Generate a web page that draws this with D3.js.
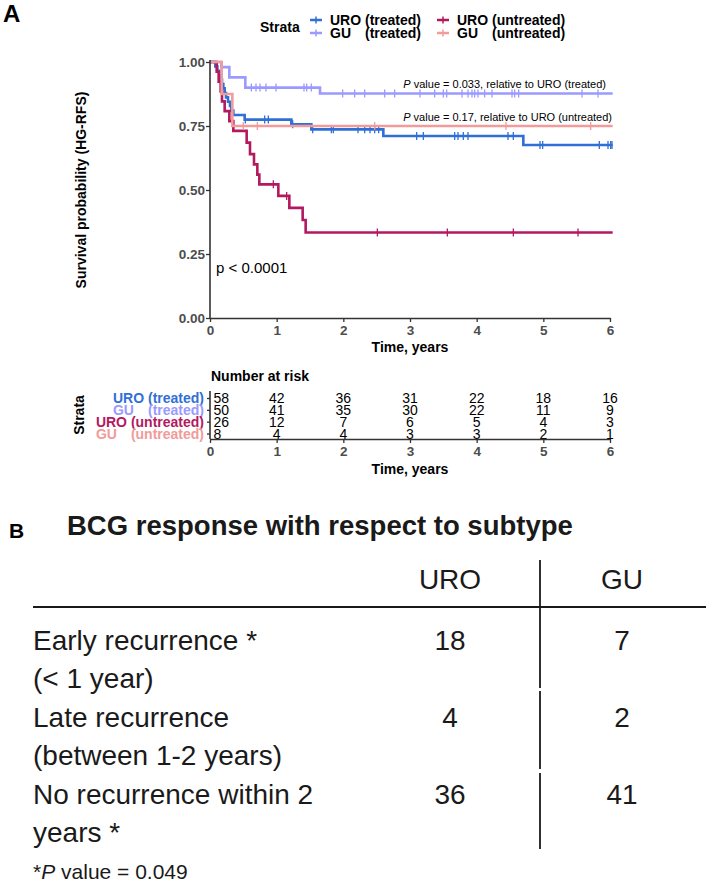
<!DOCTYPE html>
<html><head><meta charset="utf-8">
<script src="https://cdn.jsdelivr.net/npm/d3@7"></script>
<style>
body{margin:0;background:#fff}
svg{display:block}
text{font-family:"Liberation Sans",Arial,Helvetica,sans-serif}
</style>
</head><body>
<svg id="chart" width="709" height="884"></svg>
<script>
// ---------- DATA ----------
const strata = ["URO (treated)", "GU (treated)", "URO (untreated)", "GU (untreated)"];
const strataColors = ["#2f6fd6", "#9a9aff", "#b3195f", "#f19b9b"];

// Kaplan-Meier step curves (time in years, survival probability)
const uroTreatedTimes = [0, 0.08, 0.11, 0.14, 0.16, 0.18, 0.20, 0.22, 0.24, 0.27, 0.30, 0.32, 0.35, 0.52, 1.22, 1.52, 2.60, 4.70, 6.04];
const uroTreatedSurv  = [1, 0.983, 0.966, 0.948, 0.931, 0.914, 0.897, 0.879, 0.862, 0.845, 0.828, 0.810, 0.793, 0.775, 0.757, 0.737, 0.711, 0.676, 0.676];
const uroTreatedCens  = [0.53, 0.82, 0.875, 1.24, 1.54, 1.82, 1.85, 2.22, 2.32, 2.40, 2.47, 2.53, 3.10, 3.20, 3.67, 3.72, 3.80, 3.87, 4.47, 4.55, 4.95, 4.99, 5.84, 5.97, 6.01, 6.03];

const guTreatedTimes = [0, 0.17, 0.29, 0.53, 1.65, 6.04];
const guTreatedSurv  = [1, 0.98, 0.94, 0.90, 0.877, 0.877];
const guTreatedCens  = [0.62, 0.69, 0.75, 0.84, 0.99, 1.41, 1.45, 1.52, 1.99, 2.17, 2.32, 2.62, 2.77, 3.15, 3.37, 3.50, 3.55, 3.78, 3.87, 3.93, 3.97, 4.02, 4.12, 4.23, 4.53, 4.57, 4.63, 5.58, 5.82];

const uroUntreatedTimes = [0, 0.10, 0.13, 0.16, 0.18, 0.22, 0.29, 0.35, 0.55, 0.60, 0.66, 0.71, 0.74, 1.025, 1.19, 1.39, 1.435, 6.04];
const uroUntreatedSurv  = [1, 0.962, 0.923, 0.885, 0.846, 0.808, 0.769, 0.731, 0.685, 0.640, 0.600, 0.560, 0.522, 0.477, 0.430, 0.383, 0.334, 0.334];
const uroUntreatedCens  = [0.95, 1.15, 2.51, 3.56, 4.55, 5.52];

const guUntreatedTimes = [0, 0.175, 0.335, 6.04];
const guUntreatedSurv  = [1, 0.875, 0.75, 0.75];
const guUntreatedCens  = [0.50, 0.71, 2.47, 4.44, 5.71];

const pValueLabels = ["0.033, relative to URO (treated)", "0.17, relative to URO (untreated)"];
const pValueLevels = [0.877, 0.75];
const overallP = "p < 0.0001";

// Number at risk
const riskTimes = [0, 1, 2, 3, 4, 5, 6];
const riskUroTreated   = [58, 42, 36, 31, 22, 18, 16];
const riskGuTreated    = [50, 41, 35, 30, 22, 11, 9];
const riskUroUntreated = [26, 12, 7, 6, 5, 4, 3];
const riskGuUntreated  = [8, 4, 4, 3, 3, 2, 1];

const yTicks = [0, 0.25, 0.5, 0.75, 1];
const xTicks = [0, 1, 2, 3, 4, 5, 6];

// Panel B table
const tableTitle = "BCG response with respect to subtype";
const colHeaders = ["URO", "GU"];
const rowLines = [["Early recurrence *", "(< 1 year)"], ["Late recurrence", "(between 1-2 years)"], ["No recurrence within 2", "years *"]];
const uroCounts = [18, 4, 36];
const guCounts = [7, 2, 41];
const footnoteValue = " value = 0.049";

// ---------- DRAW ----------
const svg = d3.select("#chart");
const AX = "#333333", TICKC = "#4d4d4d";

const curves = [
  {t: uroTreatedTimes, s: uroTreatedSurv, c: uroTreatedCens},
  {t: guTreatedTimes, s: guTreatedSurv, c: guTreatedCens},
  {t: uroUntreatedTimes, s: uroUntreatedSurv, c: uroUntreatedCens},
  {t: guUntreatedTimes, s: guUntreatedSurv, c: guUntreatedCens}
];
const risks = [riskUroTreated, riskGuTreated, riskUroUntreated, riskGuUntreated];

const x = d3.scaleLinear().domain([0, 6]).range([210, 610]);
const y = d3.scaleLinear().domain([0, 1]).range([318, 62]);

// panel label A
svg.append("text").attr("x", 3).attr("y", 22).attr("font-size", 24).attr("font-weight", "bold").text("A");

// legend
const legG = svg.append("g");
legG.append("text").attr("x", 260).attr("y", 32).attr("font-size", 14).attr("font-weight", "bold").text("Strata");
const legCol = d3.scaleOrdinal().domain([0, 1]).range([310, 437]);
const legRow = d3.scaleOrdinal().domain([0, 1]).range([20, 33]);
function splitLabel(lbl) { const i = lbl.indexOf(" "); return [lbl.slice(0, i), lbl.slice(i + 1)]; }
strata.forEach((lbl, i) => {
  const col = Math.floor(i / 2), row = i % 2;
  const kx = legCol(col), ky = legRow(row);
  legG.append("line").attr("x1", kx).attr("x2", kx + 12).attr("y1", ky).attr("y2", ky)
    .attr("stroke", strataColors[i]).attr("stroke-width", 2.5);
  legG.append("line").attr("x1", kx + 6).attr("x2", kx + 6).attr("y1", ky - 3.5).attr("y2", ky + 3.5)
    .attr("stroke", strataColors[i]).attr("stroke-width", 1.5);
});
[0, 1].forEach(col => {
  const uroIdx = col * 2, guIdx = col * 2 + 1;
  const lx = legCol(col) + 20;
  const t1 = legG.append("text").attr("x", lx).attr("y", legRow(0) + 5).attr("font-size", 14).attr("font-weight", "bold").text(strata[uroIdx]);
  const w = t1.node().getComputedTextLength();
  const parts = splitLabel(strata[guIdx]);
  legG.append("text").attr("x", lx).attr("y", legRow(1) + 5).attr("font-size", 14).attr("font-weight", "bold").text(parts[0]);
  legG.append("text").attr("x", lx + w).attr("y", legRow(1) + 5).attr("text-anchor", "end").attr("font-size", 14).attr("font-weight", "bold").text(parts[1]);
});

// curves
const line = d3.line().x(d => x(d[0])).y(d => y(d[1])).curve(d3.curveStepAfter);
curves.forEach((cv, i) => {
  const pts = cv.t.map((t, j) => [t, cv.s[j]]);
  svg.append("path").attr("d", line(pts)).attr("fill", "none").attr("stroke", strataColors[i])
    .attr("stroke-width", 2.6).attr("stroke-linejoin", "miter");
  cv.c.forEach(ct => {
    const j = d3.bisectRight(cv.t, ct) - 1;
    const sv = cv.s[Math.max(0, j)];
    svg.append("line").attr("x1", x(ct)).attr("x2", x(ct)).attr("y1", y(sv) - 4).attr("y2", y(sv) + 4)
      .attr("stroke", strataColors[i]).attr("stroke-width", 1.3);
  });
});

// axes main
const yAxis = svg.append("g").attr("transform", "translate(210,0)")
  .call(d3.axisLeft(y).tickValues(yTicks).tickFormat(d3.format(".2f")).tickSize(4).tickSizeOuter(0));
const xAxis = svg.append("g").attr("transform", "translate(0,318)")
  .call(d3.axisBottom(x).tickValues(xTicks).tickFormat(d3.format("d")).tickSize(4).tickSizeOuter(0));
[yAxis, xAxis].forEach(g => {
  g.select(".domain").attr("stroke", AX).attr("stroke-width", 1.6);
  g.selectAll(".tick line").attr("stroke", AX).attr("stroke-width", 1.3);
  g.selectAll(".tick text").attr("fill", TICKC).attr("font-size", 13.5).attr("font-weight", "bold")
    .attr("font-family", "Liberation Sans, Arial, sans-serif");
});
yAxis.selectAll(".tick text").attr("x", -5).attr("dy", "0.36em");
xAxis.selectAll(".tick text").attr("y", 6).attr("dy", "0.8em");
yAxis.select(".domain").attr("d", `M0,${y(0)}V${y(1) - 2}`);

svg.append("text").attr("transform", "translate(86,190) rotate(-90)").attr("text-anchor", "middle")
  .attr("font-size", 14).attr("font-weight", "bold").text("Survival probability (HG-RFS)");
svg.append("text").attr("x", 410).attr("y", 352).attr("text-anchor", "middle")
  .attr("font-size", 14).attr("font-weight", "bold").text("Time, years");

svg.append("text").attr("x", 216).attr("y", 273).attr("font-size", 15).text(overallP);

// p-value annotations
pValueLabels.forEach((lbl, i) => {
  const t = svg.append("text").attr("x", i === 0 ? 606 : 612).attr("y", y(pValueLevels[i]) - 5.5)
    .attr("text-anchor", "end").attr("font-size", 11);
  t.append("tspan").attr("font-style", "italic").text("P");
  t.append("tspan").text(" value = " + lbl);
});

// ---------- risk table ----------
svg.append("text").attr("x", 211).attr("y", 381).attr("font-size", 14).attr("font-weight", "bold").text("Number at risk");
const ry = d3.scalePoint().domain(strata).range([398, 433.5]);
risks.forEach((arr, i) => {
  arr.forEach((v, j) => {
    const first = j === 0;
    svg.append("text").attr("x", first ? x(riskTimes[j]) + 3.5 : x(riskTimes[j])).attr("y", ry(strata[i])).attr("dy", "0.36em")
      .attr("text-anchor", first ? "start" : "middle").attr("font-size", 14).text(v);
  });
});
const rAxisY = svg.append("g").attr("transform", "translate(210,0)")
  .call(d3.axisLeft(ry).tickSize(3).tickFormat("").tickSizeOuter(0));
rAxisY.select(".domain").attr("d", "M0,391V439");
const rAxisX = svg.append("g").attr("transform", "translate(0,439)")
  .call(d3.axisBottom(x).tickValues(xTicks).tickFormat(d3.format("d")).tickSize(4).tickSizeOuter(0));
[rAxisY, rAxisX].forEach(g => {
  g.select(".domain").attr("stroke", AX).attr("stroke-width", 1.6);
  g.selectAll(".tick line").attr("stroke", AX).attr("stroke-width", 1.3);
  g.selectAll(".tick text").attr("fill", TICKC).attr("font-size", 13.5).attr("font-weight", "bold")
    .attr("font-family", "Liberation Sans, Arial, sans-serif");
});
rAxisX.selectAll(".tick text").attr("y", 6).attr("dy", "0.8em");
svg.append("text").attr("x", 410).attr("y", 474).attr("text-anchor", "middle")
  .attr("font-size", 14).attr("font-weight", "bold").text("Time, years");
svg.append("text").attr("transform", "translate(84,415) rotate(-90)").attr("text-anchor", "middle")
  .attr("font-size", 14).attr("font-weight", "bold").text("Strata");
[0, 2].forEach(k => {
  const a = svg.append("text").attr("x", 204).attr("y", ry(strata[k])).attr("dy", "0.36em").attr("text-anchor", "end")
    .attr("font-size", 14).attr("font-weight", "bold").attr("fill", strataColors[k]).text(strata[k]);
  const w = a.node().getComputedTextLength();
  const parts = splitLabel(strata[k + 1]);
  svg.append("text").attr("x", 204 - w).attr("y", ry(strata[k + 1])).attr("dy", "0.36em")
    .attr("font-size", 14).attr("font-weight", "bold").attr("fill", strataColors[k + 1]).text(parts[0]);
  svg.append("text").attr("x", 204).attr("y", ry(strata[k + 1])).attr("dy", "0.36em").attr("text-anchor", "end")
    .attr("font-size", 14).attr("font-weight", "bold").attr("fill", strataColors[k + 1]).text(parts[1]);
});

// ---------- Panel B ----------
const TB = "#1a1a1a";
const FS = 28;
svg.append("text").attr("x", 9).attr("y", 538).attr("font-size", 21).attr("font-weight", "bold").text("B");
svg.append("text").attr("x", 67).attr("y", 535).attr("font-size", 27.5).attr("font-weight", "bold").attr("fill", TB).text(tableTitle);
const colX = d3.scalePoint().domain(colHeaders).range([450, 622]);
colHeaders.forEach(h => {
  svg.append("text").attr("x", colX(h)).attr("y", 589).attr("text-anchor", "middle").attr("font-size", FS).attr("fill", TB).text(h);
});
svg.append("line").attr("x1", 33).attr("x2", 706).attr("y1", 607).attr("y2", 607).attr("stroke", TB).attr("stroke-width", 2);
const rowY = d3.scalePoint().domain([0, 1, 2]).range([650, 804]);
const vSegs = [[560, 688], [691, 769], [773, 849]];
vSegs.forEach(sg => svg.append("line").attr("x1", 540).attr("x2", 540).attr("y1", sg[0]).attr("y2", sg[1])
  .attr("stroke", TB).attr("stroke-width", 1.8));
rowLines.forEach((lines, i) => {
  lines.forEach((ln, k) => {
    svg.append("text").attr("x", 33).attr("y", rowY(i) + k * 38).attr("font-size", FS).attr("fill", TB).text(ln);
  });
  svg.append("text").attr("x", colX("URO")).attr("y", rowY(i)).attr("text-anchor", "middle").attr("font-size", FS).attr("fill", TB).text(uroCounts[i]);
  svg.append("text").attr("x", colX("GU")).attr("y", rowY(i)).attr("text-anchor", "middle").attr("font-size", FS).attr("fill", TB).text(guCounts[i]);
});
const fn = svg.append("text").attr("x", 33).attr("y", 879).attr("font-size", 21).attr("fill", TB);
fn.append("tspan").text("*");
fn.append("tspan").attr("font-style", "italic").text("P");
fn.append("tspan").text(footnoteValue);
</script>
</body></html>
